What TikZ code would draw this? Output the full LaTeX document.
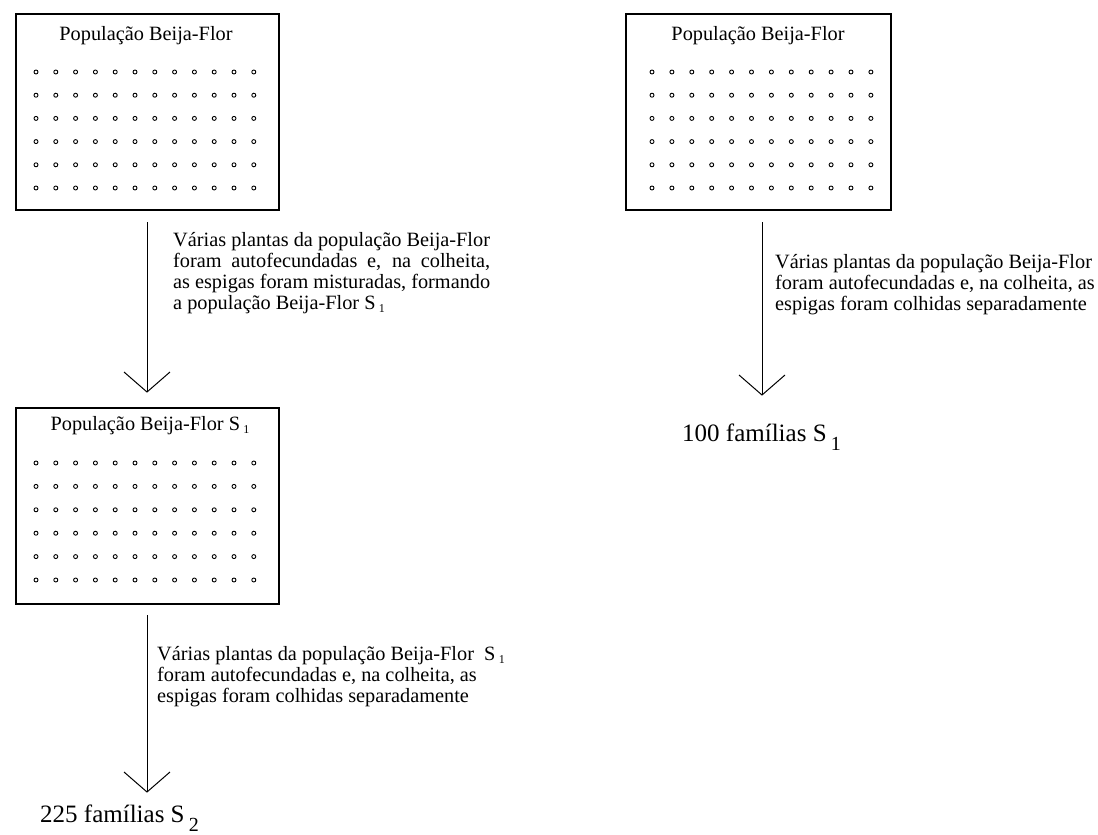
\documentclass[tikz,border=0pt]{standalone}
\usepackage{fontspec}
\setmainfont{Liberation Serif}
\newcommand\subidx[1]{\,\raisebox{-3pt}{\fontsize{12}{12}\selectfont #1}}
\newcommand\subbig[1]{\,\raisebox{-9pt}{\fontsize{20}{20}\selectfont #1}}
\begin{document}
\begin{tikzpicture}[x=1pt,y=-1pt,
  popbox/.style={draw, line width=1.8pt, minimum width=263pt, minimum height=196pt, anchor=north west, inner sep=0pt},
  dotc/.style={draw, line width=0.9pt},
  txt/.style={anchor=base west, inner sep=0pt, font=\fontsize{20.3}{22}\selectfont},
  ttl/.style={anchor=base, inner sep=0pt, font=\fontsize{20.3}{22}\selectfont},
  big/.style={anchor=base west, inner sep=0pt, font=\fontsize{25}{28}\selectfont},
  conn/.style={line width=1pt}]
\useasboundingbox (0,0) rectangle (1098,835);

% boxes
\node[popbox] (box1) at (15,13) {};
\node[popbox, minimum width=265pt] (box2) at (625,13) {};
\node[popbox] (box3) at (15,407) {};

% titles
\node[ttl] (ti1) at (146,40) {População Beija-Flor};
\node[ttl] (ti2) at (758,40) {População Beija-Flor};
\node[ttl] (ti3) at (150,430) {População Beija-Flor S\subidx{1}};

% dots
\foreach \i in {0,...,11}{
  \foreach \j in {0,...,5}{
    \draw[dotc] (36+19.8*\i, 72+23.2*\j) circle[radius=2pt];
    \draw[dotc] (652+19.9*\i, 72+23.2*\j) circle[radius=2pt];
    \draw[dotc] (36+19.8*\i, 463+23.4*\j) circle[radius=2pt];
  }
}

% arrow 1
\coordinate (a1s) at (147,222);
\coordinate (a1e) at (147,392);
\draw[conn] (a1s) -- (a1e);
\draw[conn] (a1e) ++(-23,-20) -- (a1e) -- ++(23,-20);

% arrow 2
\coordinate (a2s) at (147,615);
\coordinate (a2e) at (147,792);
\draw[conn] (a2s) -- (a2e);
\draw[conn] (a2e) ++(-23,-20) -- (a2e) -- ++(23,-20);

% arrow 3 (right)
\coordinate (a3s) at (762,222);
\coordinate (a3e) at (762,395);
\draw[conn] (a3s) -- (a3e);
\draw[conn] (a3e) ++(-23,-20) -- (a3e) -- ++(23,-20);

% text 1
\node[txt] (d1a) at (173,246) {Várias plantas da população Beija-Flor};
\node[txt] (d1b) at (173,267) {\makebox[317pt][s]{foram autofecundadas e, na colheita,}};
\node[txt] (d1c) at (173,288) {\makebox[317pt][s]{as espigas foram misturadas, formando}};
\node[txt] (d1d) at (173,309) {a população Beija-Flor S\subidx{1}};

% text 2
\node[txt] (d2a) at (157,660) {Várias plantas da população Beija-Flor \ S\subidx{1}};
\node[txt] (d2b) at (157,681) {foram autofecundadas e, na colheita, as};
\node[txt] (d2c) at (157,702) {espigas foram colhidas separadamente};

% text 3 (right)
\node[txt] (d3a) at (775,268) {Várias plantas da população Beija-Flor};
\node[txt] (d3b) at (775,289) {foram autofecundadas e, na colheita, as};
\node[txt] (d3c) at (775,310) {espigas foram colhidas separadamente};

% results
\node[big] (r1) at (682,441) {100 famílias S\subbig{1}};
\node[big] (r2) at (40,822) {225 famílias S\subbig{2}};
\end{tikzpicture}
\end{document}
